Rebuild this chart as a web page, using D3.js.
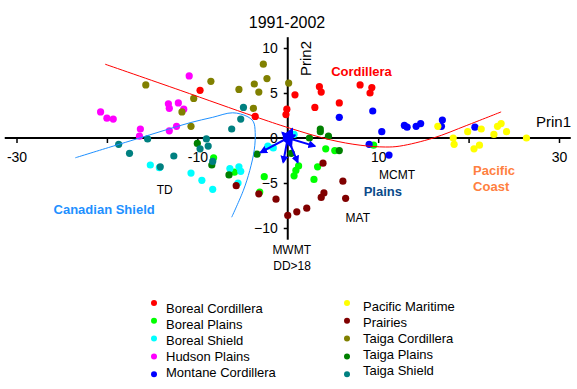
<!DOCTYPE html>
<html>
<head>
<meta charset="utf-8">
<script src="https://cdn.jsdelivr.net/npm/d3@7"></script>
<style>
  body { margin: 0; background: #fff; }
  text { font-family: Arial, "Liberation Sans", sans-serif; }
</style>
</head>
<body>
<div id="chart"></div>
<script>
// ecozone names and colours, in legend order
const zones = ["Boreal Cordillera", "Boreal Plains", "Boreal Shield", "Hudson Plains", "Montane Cordillera",
               "Pacific Maritime", "Prairies", "Taiga Cordillera", "Taiga Plains", "Taiga Shield"];
const zoneColors = ["#ff0000", "#00ff00", "#00ffff", "#ff00ff", "#0000ff",
                    "#ffff00", "#800000", "#808000", "#008000", "#008080"];

// principal component scores [Prin1, Prin2]
const borealCordillera = [[-9.7,5.3],[-3.6,2.4],[-0.1,3.2],[-0.2,2.6],[0.8,4.8],[3.5,5.7],[3.7,5.1],[3.0,3.4],[5.7,3.9],[8.0,5.9],[9.3,5.6],[9.1,5.0]];
const borealPlains = [[-8.2,-2.2],[-5.9,-3.8],[-2.6,-4.3],[-3.1,-6.0],[4.2,-1.2],[5.2,-1.4],[9.5,-0.8],[1.2,-3.1],[0.9,-3.6],[0.7,-4.2],[3.3,-3.2],[2.9,-4.6]];
const borealShield = [[-15.2,-3.0],[-14.2,-3.3],[-10.7,-3.9],[-9.5,-4.7],[-8.3,-5.7],[-6.4,-3.4],[-5.4,-3.2],[-5.2,-3.7],[-5.5,-5.0],[-1.6,-1.1],[-2.2,-0.9],[0.7,0.4]];
const hudsonPlains = [[-20.7,2.9],[-20.0,2.2],[-19.3,2.1],[-16.3,1.0],[-16.4,0.2],[-13.1,0.8],[-12.3,1.3],[-13.2,3.8],[-13.1,3.3],[-12.1,3.9],[-11.5,3.2],[-10.9,6.9]];
const montaneCordillera = [[5.7,2.3],[9.4,3.0],[10.4,0.7],[12.9,1.4],[13.2,1.2],[14.2,1.3],[14.7,1.6],[17.1,2.0],[17.0,1.3],[20.7,1.2],[9.0,-0.7],[11.2,-1.9]];
const pacificMaritime = [[16.6,1.3],[18.3,0.0],[18.4,-0.7],[19.9,0.7],[20.6,-1.2],[21.2,-0.8],[21.4,1.0],[22.8,0.4],[23.2,1.3],[23.6,1.6],[24.2,0.7],[26.4,0.0]];
const prairies = [[-5.7,-5.3],[-3.2,-6.2],[-1.3,-6.8],[0.0,-8.6],[1.0,-8.2],[2.1,-7.8],[3.7,-6.6],[4.0,-6.1],[6.4,-6.7],[6.1,-4.8],[3.9,-2.8]];
const taigaCordillera = [[-15.7,5.9],[-8.5,6.3],[-10.4,4.4],[-11.7,2.9],[-10.7,1.3],[-5.4,5.4],[-3.7,6.0],[-3.2,5.1],[-3.8,3.3],[-2.7,8.2],[-2.3,6.6],[0.1,6.1]];
const taigaPlains = [[-10.0,-0.6],[-8.4,-3.0],[-6.5,-4.1],[-3.4,-1.8],[3.6,1.0],[3.6,0.7],[4.5,0.2],[2.4,0.0],[5.7,-1.4],[0.4,-1.7]];
const taigaShield = [[-18.7,-0.7],[-17.5,-1.7],[-15.5,-0.1],[-12.6,-2.0],[-14.1,-3.2],[-9.0,-0.1],[-8.8,-0.9],[-9.7,-1.2],[-8.3,-2.6],[-6.2,1.0],[-5.2,2.1],[-4.9,3.4]];
const series = [borealCordillera, borealPlains, borealShield, hudsonPlains, montaneCordillera,
                pacificMaritime, prairies, taigaCordillera, taigaPlains, taigaShield];

// fitted boundary curves
const cordilleraCurve = [[-20.2,8.2],[-11.9,5.3],[-3.7,2.4],[0.2,1.1],[4.7,-0.2],[8.0,-0.8],[10.8,-1.0],[12.4,-0.9],[16.1,0.0],[19.8,1.4],[23.6,2.9]];
const shieldCurve = [[-23.5,-2.2],[-19.3,-0.9],[-16.7,-0.1],[-13.8,0.8],[-10.8,1.7],[-8.3,2.3],[-6.1,2.8],[-4.5,2.4],[-3.8,1.8],[-3.6,0.6],[-3.7,-1.3],[-4.2,-3.6],[-4.9,-5.8],[-6.2,-8.8]];

// climate variable loadings (arrows) and their labels
const loadings = [[-3.0,-1.6],[3.0,-0.9],[-0.5,-2.7],[1.1,-2.7],[-0.6,0.6],[0.5,1.0],[0.8,0.3],[0.4,-1.0]];
const varLabels = [["TD",-14.5,-5.7],["MCMT",10.1,-4.1],["MAT",6.4,-8.9],["MWMT",-1.7,-12.4],["DD>18",-1.6,-14.2]];

// region labels
const regionLabels = [
  {lines: ["Cordillera"], x: 4.8, y: 7.4, color: "#ff0000"},
  {lines: ["Plains"], x: 8.4, y: -5.9, color: "#0a4a8a"},
  {lines: ["Pacific", "Coast"], x: 20.5, y: -3.6, color: "#ff8040"},
  {lines: ["Canadian Shield"], x: -25.9, y: -7.9, color: "#1e90ff"}
];

const xTicks = [-30, -20, -10, 10, 20, 30];
const yTicks = [-10, -5, 0, 5, 10];

const W = 577, H = 389;
const svg = d3.select("#chart").append("svg")
  .attr("width", W).attr("height", H);

const x = d3.scaleLinear().domain([-30, 30]).range([16.5, 559]);
const y = d3.scaleLinear().domain([-10, 10]).range([228, 48]);

// title
svg.append("text")
  .attr("x", 287).attr("y", 28)
  .attr("text-anchor", "middle")
  .style("font-size", "16px")
  .text("1991-2002");

// axes through the origin
const xAxis = svg.append("g")
  .attr("transform", `translate(0,${y(0)})`)
  .call(d3.axisBottom(x).tickValues(xTicks).tickSize(5).tickPadding(9)
    .tickFormat(d => Math.abs(d) % 20 === 10 ? d : ""));
xAxis.select(".domain").remove();
xAxis.selectAll("line").attr("stroke", "#000").attr("stroke-width", 1.5);
xAxis.selectAll("text").style("font-size", "14px").style("font-family", "Arial, 'Liberation Sans', sans-serif");

const yAxis = svg.append("g")
  .attr("transform", `translate(${x(0)},0)`)
  .call(d3.axisLeft(y).tickValues(yTicks).tickSize(4).tickPadding(6));
yAxis.select(".domain").remove();
yAxis.selectAll(".tick").filter(d => d === 0).select("line").remove();
yAxis.selectAll("line").attr("stroke", "#000").attr("stroke-width", 1.5);
yAxis.selectAll("text").style("font-size", "14px").style("font-family", "Arial, 'Liberation Sans', sans-serif");

svg.append("line")
  .attr("x1", x(-31.3)).attr("x2", x(31.3))
  .attr("y1", y(0)).attr("y2", y(0))
  .attr("stroke", "#000").attr("stroke-width", 2);
svg.append("line")
  .attr("x1", x(0)).attr("x2", x(0))
  .attr("y1", y(11.2)).attr("y2", y(-11.3))
  .attr("stroke", "#000").attr("stroke-width", 2);

svg.append("text")
  .attr("x", 536).attr("y", 127)
  .style("font-size", "15px")
  .text("Prin1");
svg.append("text")
  .attr("transform", "translate(311,76) rotate(-90)")
  .style("font-size", "15px")
  .text("Prin2");

// points
series.forEach(function(pts, i) {
  svg.append("g")
    .selectAll("circle")
    .data(pts)
    .join("circle")
      .attr("cx", d => x(d[0]))
      .attr("cy", d => y(d[1]))
      .attr("r", 3.6)
      .attr("fill", zoneColors[i]);
});

// curves
const line = d3.line().x(d => x(d[0])).y(d => y(d[1])).curve(d3.curveCatmullRom);
svg.append("path").attr("d", line(cordilleraCurve))
  .attr("fill", "none").attr("stroke", "#ff0000").attr("stroke-width", 1);
svg.append("path").attr("d", line(shieldCurve))
  .attr("fill", "none").attr("stroke", "#1e90ff").attr("stroke-width", 1);

// loading arrows
svg.append("defs").append("marker")
  .attr("id", "head")
  .attr("viewBox", "0 0 10 10")
  .attr("refX", 8).attr("refY", 5)
  .attr("markerWidth", 4).attr("markerHeight", 4)
  .attr("orient", "auto")
  .append("path").attr("d", "M0,0L10,5L0,10z").attr("fill", "#0000ff");
svg.append("g")
  .selectAll("line")
  .data(loadings)
  .join("line")
    .attr("x1", x(0)).attr("y1", y(0))
    .attr("x2", d => x(d[0])).attr("y2", d => y(d[1]))
    .attr("stroke", "#0000ff").attr("stroke-width", 2)
    .attr("marker-end", "url(#head)");
svg.append("circle")
  .attr("cx", x(0)).attr("cy", y(0)).attr("r", 5).attr("fill", "#0000ff");

svg.append("g")
  .selectAll("text")
  .data(varLabels)
  .join("text")
    .attr("x", d => x(d[1])).attr("y", d => y(d[2]))
    .attr("dy", "0.35em")
    .style("font-size", "12px")
    .text(d => d[0]);

// region labels
regionLabels.forEach(function(r) {
  r.lines.forEach(function(t, j) {
    svg.append("text")
      .attr("x", x(r.x)).attr("y", y(r.y) + j * 16)
      .attr("dy", "0.35em")
      .attr("fill", r.color)
      .style("font-size", "13px")
      .style("font-weight", "bold")
      .text(t);
  });
});

// legend
const leg = svg.append("g");
zones.forEach(function(name, i) {
  const col = Math.floor(i / 5), row = i % 5;
  const mx = col === 0 ? 154 : 347;
  const tx = col === 0 ? 166 : 363;
  const my = 303 + row * 17.8;
  const ty = (col === 0 ? 308 : 306) + row * 16;
  leg.append("circle")
    .attr("cx", mx).attr("cy", my).attr("r", 3)
    .attr("fill", zoneColors[i]);
  leg.append("text")
    .attr("x", tx).attr("y", ty)
    .attr("dy", "0.35em")
    .style("font-size", "13px")
    .text(name);
});
</script>
</body>
</html>
